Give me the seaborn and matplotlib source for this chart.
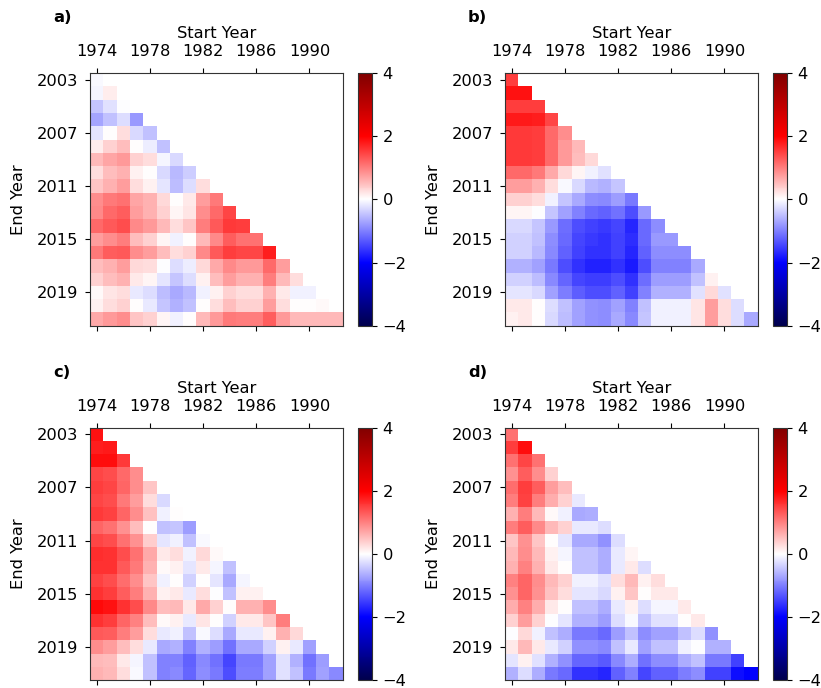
import numpy as np
import pandas as pd
import matplotlib
matplotlib.use("Agg")
import matplotlib.pyplot as plt
import seaborn as sns

start_years = list(range(1974, 1993))
end_years = list(range(2003, 2022))

# Each row: values for start years 1974.. up to the last valid start year
panel_a = [
    [-0.05],
    [-0.08, 0.15],
    [-0.45, -0.25, -0.03],
    [-0.7, -0.5, -0.28, -0.8],
    [-0.2, 0.0, 0.25, -0.3, -0.5],
    [0.15, 0.35, 0.5, 0.02, -0.15, -0.5],
    [0.55, 0.7, 0.8, 0.35, 0.25, -0.08, -0.3],
    [0.28, 0.5, 0.6, 0.1, 0.0, -0.3, -0.55, -0.4],
    [0.45, 0.6, 0.75, 0.25, 0.12, -0.2, -0.52, -0.28, 0.25],
    [0.88, 1.05, 1.1, 0.7, 0.62, 0.3, 0.02, 0.18, 0.75, 1.05],
    [0.93, 1.18, 1.25, 0.75, 0.62, 0.35, 0.08, 0.2, 0.88, 1.18, 1.45],
    [1.18, 1.3, 1.38, 0.93, 0.8, 0.55, 0.25, 0.45, 1.0, 1.3, 1.55, 1.5],
    [0.75, 0.88, 1.0, 0.5, 0.35, 0.08, -0.12, 0.0, 0.55, 0.93, 1.25, 1.1, 1.1],
    [1.05, 1.25, 1.3, 0.88, 0.75, 0.5, 0.25, 0.35, 0.93, 1.3, 1.5, 1.45, 1.45, 1.75],
    [0.5, 0.62, 0.75, 0.3, 0.25, -0.03, -0.28, -0.13, 0.3, 0.68, 0.93, 0.8, 0.8, 1.18, 0.75],
    [0.35, 0.5, 0.62, 0.18, 0.08, -0.2, -0.45, -0.28, 0.12, 0.5, 0.75, 0.62, 0.62, 1.0, 0.55, 0.28],
    [0.05, 0.2, 0.28, -0.17, -0.28, -0.52, -0.68, -0.55, -0.12, 0.12, 0.35, 0.28, 0.28, 0.62, 0.18, -0.1, -0.1],
    [0.12, 0.28, 0.35, 0.02, -0.17, -0.45, -0.62, -0.47, 0.0, 0.28, 0.5, 0.35, 0.35, 0.75, 0.28, 0.03, 0.03, 0.05],
    [0.68, 0.8, 0.88, 0.45, 0.35, 0.08, -0.12, 0.02, 0.55, 0.8, 1.05, 1.0, 1.0, 1.25, 0.8, 0.55, 0.55, 0.55, 0.55],
]

panel_b = [
    [1.5],
    [1.87, 1.87],
    [1.5, 1.5, 1.5],
    [1.8, 1.8, 1.75, 1.45],
    [1.55, 1.55, 1.5, 1.18, 0.88],
    [1.55, 1.55, 1.5, 1.18, 0.8, 0.55],
    [1.55, 1.55, 1.5, 1.18, 0.8, 0.5, 0.3],
    [1.18, 1.18, 1.05, 0.68, 0.3, 0.08, -0.12, -0.25],
    [0.75, 0.75, 0.62, 0.25, -0.05, -0.3, -0.55, -0.62, -0.45],
    [0.35, 0.35, 0.28, -0.12, -0.45, -0.68, -0.88, -0.93, -0.78, -1.05],
    [0.08, 0.08, -0.02, -0.45, -0.75, -1.0, -1.18, -1.25, -1.1, -1.38, -0.8],
    [-0.3, -0.3, -0.45, -0.8, -1.15, -1.38, -1.5, -1.55, -1.45, -1.7, -1.18, -0.88],
    [-0.35, -0.35, -0.47, -0.88, -1.18, -1.45, -1.55, -1.6, -1.47, -1.65, -1.18, -0.8, -0.8],
    [-0.37, -0.37, -0.55, -0.93, -1.25, -1.5, -1.6, -1.62, -1.5, -1.7, -1.25, -0.9, -0.9, -0.9],
    [-0.62, -0.62, -0.75, -1.05, -1.38, -1.62, -1.72, -1.72, -1.6, -1.8, -1.38, -1.0, -1.0, -1.0, -0.68],
    [-0.37, -0.37, -0.52, -0.93, -1.2, -1.45, -1.52, -1.52, -1.4, -1.6, -1.15, -0.78, -0.78, -0.78, -0.47, 0.12],
    [-0.2, -0.2, -0.3, -0.75, -1.03, -1.28, -1.38, -1.4, -1.25, -1.47, -1.0, -0.6, -0.6, -0.6, -0.25, 0.3, -0.25],
    [0.17, 0.17, 0.03, -0.28, -0.5, -0.75, -0.85, -0.9, -0.72, -1.0, -0.47, -0.12, -0.12, -0.12, 0.2, 0.75, 0.28, -0.28],
    [0.12, 0.17, 0.02, -0.3, -0.52, -0.75, -0.85, -0.88, -0.68, -0.93, -0.45, -0.12, -0.12, -0.12, 0.2, 0.75, 0.25, -0.28, -0.68],
]

panel_c = [
    [1.87],
    [1.75, 1.8],
    [1.9, 1.9, 1.55],
    [1.45, 1.38, 1.18, 0.9],
    [1.52, 1.45, 1.2, 0.9, 0.45],
    [1.45, 1.38, 1.05, 0.75, 0.25, -0.3],
    [1.55, 1.47, 1.2, 0.9, 0.47, -0.12, 0.02],
    [1.2, 1.1, 0.85, 0.5, 0.02, -0.5, -0.45, -0.78],
    [1.45, 1.38, 1.1, 0.85, 0.4, -0.2, -0.12, -0.47, -0.05],
    [1.65, 1.62, 1.38, 1.1, 0.68, 0.18, 0.28, -0.12, 0.3, 0.05],
    [1.62, 1.6, 1.3, 1.05, 0.62, 0.05, 0.12, -0.2, 0.18, -0.08, -0.5],
    [1.47, 1.4, 1.15, 0.88, 0.45, -0.12, 0.02, -0.37, 0.02, -0.2, -0.68, -0.08],
    [1.6, 1.52, 1.28, 1.0, 0.62, 0.12, 0.18, -0.18, 0.25, -0.02, -0.47, 0.12, 0.12],
    [1.93, 1.85, 1.6, 1.38, 0.93, 0.5, 0.55, 0.18, 0.68, 0.35, 0.02, 0.62, 0.62, 0.88],
    [1.6, 1.5, 1.2, 0.97, 0.5, 0.05, 0.12, -0.18, 0.2, 0.02, -0.37, 0.17, 0.17, 0.45, 1.0],
    [1.3, 1.25, 1.0, 0.75, 0.28, -0.18, -0.12, -0.47, -0.05, -0.28, -0.68, -0.17, -0.17, 0.12, 0.62, 0.3],
    [0.88, 0.75, 0.5, 0.25, -0.17, -0.68, -0.62, -1.0, -0.6, -0.78, -1.1, -0.68, -0.68, -0.37, 0.12, -0.18, -0.75],
    [0.55, 0.5, 0.18, -0.08, -0.5, -1.0, -0.97, -1.25, -0.93, -1.1, -1.45, -1.05, -1.05, -0.75, -0.25, -0.6, -1.1, -0.78],
    [0.62, 0.55, 0.25, -0.05, -0.47, -0.97, -0.93, -1.2, -0.9, -1.05, -1.4, -1.03, -1.03, -0.75, -0.25, -0.5, -1.05, -0.75, -0.93],
]

panel_d = [
    [1.1],
    [1.52, 1.9],
    [1.1, 1.45, 1.1],
    [0.85, 1.25, 0.9, 0.35],
    [1.15, 1.52, 1.25, 0.78, 0.52],
    [1.03, 1.47, 1.03, 0.65, 0.35, -0.17],
    [0.6, 1.0, 0.55, 0.05, -0.12, -0.68, -0.65],
    [1.0, 1.28, 0.93, 0.55, 0.35, -0.18, -0.18, -0.28],
    [0.45, 0.85, 0.45, 0.02, -0.2, -0.68, -0.68, -0.85, -0.28],
    [0.55, 0.9, 0.55, 0.12, -0.08, -0.5, -0.5, -0.65, -0.18, 0.08],
    [0.62, 0.97, 0.62, 0.18, 0.02, -0.5, -0.5, -0.65, -0.17, 0.18, -0.28],
    [0.97, 1.2, 0.9, 0.55, 0.35, -0.12, -0.12, -0.25, 0.25, 0.55, 0.12, 0.28],
    [0.85, 1.2, 0.85, 0.47, 0.25, -0.2, -0.2, -0.3, 0.12, 0.45, 0.02, 0.18, 0.18],
    [0.65, 0.97, 0.65, 0.18, 0.02, -0.5, -0.5, -0.65, -0.17, 0.12, -0.28, -0.08, -0.08, 0.17],
    [0.35, 0.75, 0.35, -0.02, -0.2, -0.62, -0.62, -0.78, -0.28, -0.05, -0.47, -0.25, -0.25, 0.02, 0.17],
    [-0.02, 0.3, -0.12, -0.47, -0.65, -1.05, -1.05, -1.18, -0.78, -0.5, -0.9, -0.75, -0.75, -0.47, -0.28, -0.85],
    [0.18, 0.55, 0.18, -0.17, -0.37, -0.85, -0.85, -0.93, -0.5, -0.17, -0.72, -0.47, -0.47, -0.12, -0.02, -0.6, -0.6],
    [-0.2, 0.12, -0.25, -0.62, -0.85, -1.2, -1.2, -1.3, -0.93, -0.65, -1.1, -0.9, -0.9, -0.65, -0.5, -1.05, -1.05, -1.5],
    [-0.6, -0.28, -0.65, -1.05, -1.18, -1.62, -1.62, -1.7, -1.25, -1.0, -1.45, -1.25, -1.25, -1.03, -0.9, -1.5, -1.5, -1.9, -2.0],
]

panel_labels = ["a)", "b)", "c)", "d)"]
x_tick_years = [1974, 1978, 1982, 1986, 1990]
y_tick_years = [2003, 2007, 2011, 2015, 2019]
cbar_ticks = [-4, -2, 0, 2, 4]


def to_frame(rows):
    grid = np.full((len(end_years), len(start_years)), np.nan)
    for i, row in enumerate(rows):
        grid[i, :len(row)] = row
    return pd.DataFrame(grid, index=end_years, columns=start_years)


W, H = 821, 688
fig = plt.figure(figsize=(W / 100, H / 100), dpi=100)
plt.rcParams["font.family"] = ["DejaVu Sans"]
FS = 11.7

# pixel boxes: (left, top) of each heatmap; size of heatmap and colorbar
boxes = [(90, 73), (505, 73), (90, 427.5), (505, 427.5)]
side = 252.7
cb_gap, cb_w = 268, 14

for data, label, (left, top) in zip([panel_a, panel_b, panel_c, panel_d], panel_labels, boxes):
    df = to_frame(data)
    ax = fig.add_axes([left / W, 1 - (top + side) / H, side / W, side / H])
    cax = fig.add_axes([(left + cb_gap) / W, 1 - (top + side) / H, cb_w / W, side / H])
    sns.heatmap(df, ax=ax, cbar_ax=cax, cmap="seismic", vmin=-4, vmax=4,
                mask=df.isna(), xticklabels=False, yticklabels=False,
                cbar_kws={"ticks": cbar_ticks})
    for s in ax.spines.values():
        s.set_visible(True)
        s.set_linewidth(0.8)
        s.set_color("#333333")
    xpos = [start_years.index(y) + 0.5 for y in x_tick_years]
    ypos = [end_years.index(y) + 0.5 for y in y_tick_years]
    ax.set_xticks(xpos)
    ax.set_xticklabels([str(y) for y in x_tick_years], rotation=0, fontsize=FS)
    ax.set_yticks(ypos)
    ax.set_yticklabels([str(y) for y in y_tick_years], rotation=0, fontsize=FS)
    ax.xaxis.set_ticks_position("both")
    ax.xaxis.set_label_position("top")
    ax.tick_params(axis="x", labeltop=True, labelbottom=False, length=3.5, width=0.8, pad=6.3)
    ax.tick_params(axis="y", left=True, length=3.5, width=0.8, pad=5.2)
    ax.set_xlabel("Start Year", fontsize=FS, labelpad=4.5)
    ax.set_ylabel("End Year", fontsize=FS, labelpad=7.5)
    cb = ax.collections[0].colorbar
    cb.outline.set_linewidth(0.8)
    cb.outline.set_edgecolor("#333333")
    cax.tick_params(labelsize=FS, length=3.5, width=0.8, pad=4)
    fig.text((left - 37) / W, 1 - (top - 55) / H, label, fontsize=FS,
             fontweight="bold", ha="left", va="center")

fig.savefig("out.png", dpi=100)
